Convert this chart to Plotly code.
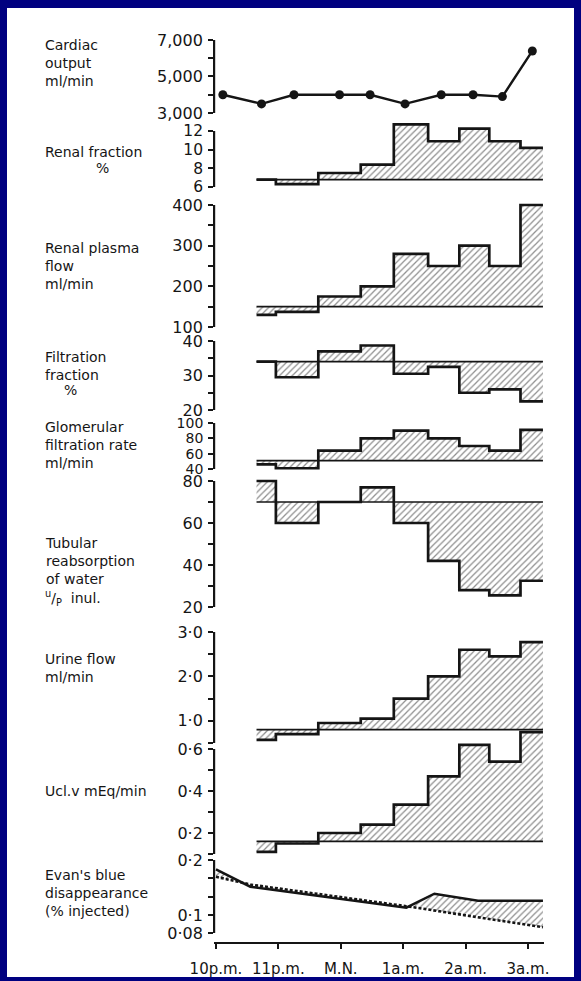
import math
import plotly.graph_objects as go

W, H = 581, 981

# ---------------- data ----------------
# hours after 10 p.m.
period_edges_h = [0.65, 0.96, 1.64, 2.32, 2.85, 3.40, 3.90, 4.38, 4.88, 5.24]

cardiac_time_h = [0.11, 0.73, 1.25, 1.98, 2.47, 3.03, 3.61, 4.12, 4.59, 5.07]
cardiac_output = [4000, 3500, 4000, 4000, 4000, 3500, 4000, 4000, 3900, 6400]

renal_fraction = [6.8, 6.3, 7.5, 8.4, 12.7, 10.9, 12.25, 10.9, 10.2]
renal_fraction_base = 6.8

renal_plasma_flow = [130, 137, 175, 200, 280, 250, 300, 250, 400]
renal_plasma_flow_base = 150

filtration_fraction = [34, 29.5, 37, 38.7, 30.5, 32.5, 25, 26, 22.5]
filtration_fraction_base = 34

gfr = [46, 41, 64, 80, 90, 80, 70, 64, 91]
gfr_base = 51

tubular_reabs = [80, 60, 70, 77, 60, 42, 28, 25.5, 32.5]
tubular_reabs_base = 70

urine_flow = [0.57, 0.70, 0.95, 1.05, 1.5, 2.0, 2.6, 2.45, 2.77]
urine_flow_base = 0.8

ucl_v = [0.11, 0.15, 0.20, 0.24, 0.335, 0.47, 0.62, 0.54, 0.68]
ucl_v_base = 0.16

evans_solid_t = [0, 0.55, 3.05, 3.5, 4.2, 5.24]
evans_solid = [0.178, 0.143, 0.110, 0.131, 0.120, 0.120]
evans_dash_t = [0, 0.55, 3.05, 5.24]
evans_dash = [0.162, 0.147, 0.112, 0.086]

time_ticks = [0, 1, 2, 3, 4, 5]
time_labels = ["10p.m.", "11p.m.", "M.N.", "1a.m.", "2a.m.", "3a.m."]

# ---------------- layout helpers ----------------
INK = "#151515"
NAVY = "#000080"
FONT = "DejaVu Sans"

X_LEFT_PX, X_RIGHT_PX = 214.1, 544.2
X_RANGE = [-0.03, 5.26]
X_AXIS_PX = 943

# (key, lo, hi, px_at_hi, px_at_lo, range_lo, range_hi, tickvals, ticktext, log, fontsize)
panels = [
    ("y",  3000, 7000, 40, 113, 2900, 7100,
     [7000, 6000, 5000, 4000, 3000], ["7,000", "", "5,000", "", "3,000"], False, 16),
    ("y2", 6, 12, 131, 187, 5.9, 13.0,
     [12, 10, 8, 6], ["12", "10", "8", "6"], False, 15.5),
    ("y3", 100, 400, 205, 327, 97, 405,
     [400, 350, 300, 250, 200, 150, 100], ["400", "", "300", "", "200", "", "100"], False, 16),
    ("y4", 20, 40, 341, 410, 19.5, 40.5,
     [40, 35, 30, 25, 20], ["40", "", "30", "", "20"], False, 16),
    ("y5", 40, 100, 423, 469, 38, 101,
     [100, 80, 60, 40], ["100", "80", "60", "40"], False, 14),
    ("y6", 20, 80, 481, 607, 19.5, 81.5,
     [80, 70, 60, 50, 40, 30, 20], ["80", "", "60", "", "40", "", "20"], False, 16),
    ("y7", 0.5, 3.0, 632, 743, 0.48, 3.02,
     [3.0, 2.5, 2.0, 1.5, 1.0, 0.5], ["3·0", "", "2·0", "", "1·0", ""], False, 16),
    ("y8", 0.1, 0.6, 749, 854, 0.09, 0.70,
     [0.6, 0.5, 0.4, 0.3, 0.2, 0.1], ["0·6", "", "0·4", "", "0·2", ""], False, 16),
    ("y9", 0.08, 0.2, 860, 933, 0.078, 0.203,
     [0.2, 0.2 * 10 ** -0.1, 0.2 * 10 ** -0.2, 0.1, 0.08], ["0·2", "", "", "0·1", "0·08"], True, 16),
]

fig = go.Figure()
layout_axes = {}
shapes = []

# white sheet on navy background
shapes.append(dict(type="rect", xref="paper", yref="paper", layer="below",
                   x0=7 / W, x1=574 / W, y0=1 - 977 / H, y1=1 - 8 / H,
                   fillcolor="white", line=dict(width=0)))

for key, lo, hi, px_hi, px_lo, rlo, rhi, tv, tt, is_log, fs in panels:
    f = math.log10 if is_log else (lambda v: v)
    ppu = (px_lo - px_hi) / (f(hi) - f(lo))
    top_px = px_hi - (f(rhi) - f(hi)) * ppu
    bot_px = px_lo + (f(lo) - f(rlo)) * ppu
    dom = [1 - bot_px / H, 1 - top_px / H]
    name = "yaxis" if key == "y" else "yaxis" + key[1:]
    layout_axes[name] = dict(
        domain=dom, anchor="x", automargin=False,
        type="log" if is_log else "linear",
        range=[f(rlo), f(rhi)],
        tickvals=tv, ticktext=tt, ticks="outside", ticklen=5, tickwidth=2,
        tickcolor=INK, showline=False, showgrid=False, zeroline=False,
        tickfont=dict(family=FONT, size=fs, color=INK), ticklabelstandoff=2,
    )
    shapes.append(dict(type="line", xref="x domain", yref=key,
                       x0=0, x1=0, y0=lo, y1=hi,
                       line=dict(color=INK, width=2.2)))

HATCH = dict(shape="/", fgcolor="#1e1e1e", bgcolor="white", size=4.5, solidity=0.28)


def step_panel(yref, values, base):
    e = period_edges_h
    fig.add_trace(go.Scatter(x=[e[0], e[-1]], y=[base, base], mode="lines",
                             line=dict(color=INK, width=1.7), yaxis=yref,
                             xaxis="x", hoverinfo="skip", showlegend=False))
    fig.add_trace(go.Scatter(x=e, y=list(values) + [values[-1]], mode="lines",
                             line=dict(color=INK, width=2.7, shape="hv"),
                             fill="tonexty", fillcolor="white", fillpattern=HATCH,
                             yaxis=yref, xaxis="x", showlegend=False))


# cardiac output
fig.add_trace(go.Scatter(x=cardiac_time_h, y=cardiac_output, mode="lines+markers",
                         line=dict(color=INK, width=2.4),
                         marker=dict(color=INK, size=9),
                         xaxis="x", yaxis="y", showlegend=False))

step_panel("y2", renal_fraction, renal_fraction_base)
step_panel("y3", renal_plasma_flow, renal_plasma_flow_base)
step_panel("y4", filtration_fraction, filtration_fraction_base)
step_panel("y5", gfr, gfr_base)
step_panel("y6", tubular_reabs, tubular_reabs_base)
step_panel("y7", urine_flow, urine_flow_base)
step_panel("y8", ucl_v, ucl_v_base)

# Evan's blue disappearance
fig.add_trace(go.Scatter(x=evans_dash_t, y=evans_dash, mode="lines",
                         line=dict(color=INK, width=2.6, dash="3px,2px"),
                         xaxis="x", yaxis="y9", showlegend=False))
fig.add_trace(go.Scatter(x=evans_solid_t, y=evans_solid, mode="lines",
                         line=dict(color=INK, width=2.5),
                         fill="tonexty", fillcolor="white", fillpattern=HATCH,
                         xaxis="x", yaxis="y9", showlegend=False))

# panel labels
labels = [
    ("Cardiac<br>output<br>ml/min", 43, 63),
    ("Renal fraction", 43, 152),
    ("%", 94, 168),
    ("Renal plasma<br>flow<br>ml/min", 43, 266),
    ("Filtration<br>fraction", 43, 366),
    ("%", 62, 390),
    ("Glomerular<br>filtration rate<br>ml/min", 43, 445),
    ("Tubular<br>reabsorption<br>of water", 43, 561),
    ("<sup>u</sup>/<sub>P</sub>  inul.", 43, 598),
    ("Urine flow<br>ml/min", 43, 668),
    ("Ucl.v mEq/min", 43, 791),
    ("Evan's blue<br>disappearance<br>(% injected)", 43, 893),
]
annotations = []
for txt, px, py in labels:
    annotations.append(dict(text=txt, x=px / W, y=1 - py / H, xref="paper", yref="paper",
                            xanchor="left", yanchor="middle", align="left", showarrow=False,
                            font=dict(family=FONT, size=14, color=INK)))

fig.update_layout(
    width=W, height=H, autosize=False,
    margin=dict(l=0, r=0, t=0, b=0, pad=0, autoexpand=False),
    paper_bgcolor=NAVY, plot_bgcolor="rgba(0,0,0,0)",
    showlegend=False,
    shapes=shapes, annotations=annotations,
    xaxis=dict(domain=[X_LEFT_PX / W, X_RIGHT_PX / W], range=X_RANGE,
               anchor="free", position=1 - X_AXIS_PX / H, automargin=False,
               tickvals=time_ticks, ticktext=time_labels,
               ticks="outside", ticklen=5, tickwidth=2, tickcolor=INK,
               showline=True, linewidth=2.2, linecolor=INK,
               showgrid=False, zeroline=False, ticklabelstandoff=7,
               tickfont=dict(family=FONT, size=15, color=INK)),
    **layout_axes,
)

fig.write_html(
    "out.html",
    config={"displayModeBar": False},
    post_script="document.body.style.margin='0';document.body.style.padding='0';"
                "document.body.style.background='#000080';"
                "document.documentElement.style.background='#000080';",
)
